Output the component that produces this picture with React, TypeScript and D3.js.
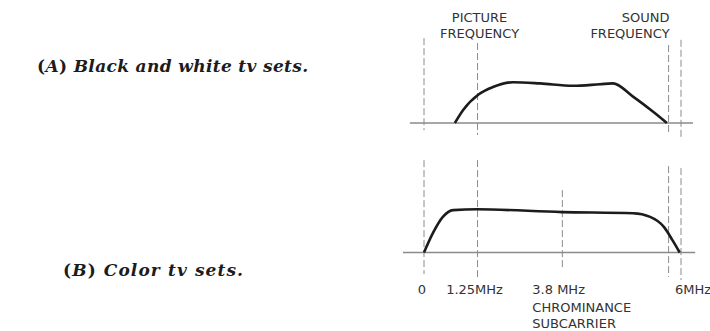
import * as d3 from 'd3';

// Frequency positions (MHz)
const BW_MHZ = [0.72, 0.91, 1.28, 1.61, 2.08, 2.71, 3.48, 4.11, 4.41, 4.88, 5.35, 5.67];
const BW_AMP = [0, 0.32, 0.72, 0.9, 1.02, 0.99, 0.93, 0.97, 0.99, 0.66, 0.28, 0];

const COLOR_MHZ = [0, 0.21, 0.44, 0.68, 1.24, 3.22, 4.88, 5.28, 5.6, 5.8, 5.97];
const COLOR_AMP = [0, 0.49, 0.89, 1.06, 1.08, 1.01, 0.98, 0.89, 0.64, 0.31, 0];

// vertical dashed guides
const TOP_GUIDES = [0, 1.25, 5.71, 6];
const BOTTOM_GUIDES = [0, 1.25, 3.23, 5.71, 6];

const TICK_MHZ = [0, 1.25, 3.23, 6];
const TICK_LABELS = ['0', '1.25MHz', '3.8 MHz', '6MHz'];
const CHROMA_LABELS = ['CHROMINANCE', 'SUBCARRIER'];
const PICTURE_LABELS = ['PICTURE', 'FREQUENCY'];
const SOUND_LABELS = ['SOUND', 'FREQUENCY'];

// guide extents in panel amplitude units [top, bottom]
const TOP_GUIDE_SPAN = [[2.12, -0.18], [2.0, -0.3], [1.95, -0.28], [2.08, -0.35]];
const BOTTOM_GUIDE_SPAN = [[2.31, -0.54], [2.31, -0.69], [1.56, -0.44], [2.16, -0.61], [2.11, -0.69]];

const LABEL_FONT = '"DejaVu Sans", sans-serif';
const CAPTION_FONT = '"DejaVu Serif", serif';
const GUIDE = '#8c8c8c';
const INK = '#1c1c1c';

export default function App() {
  const x = d3.scaleLinear().domain([0, 6]).range([424, 681]);
  const yTop = d3.scaleLinear().domain([0, 1]).range([123, 83]);
  const yBot = d3.scaleLinear().domain([0, 1]).range([252.5, 212.5]);

  const bwLine = d3
    .line<number>()
    .x((d) => x(d))
    .y((_, i) => yTop(BW_AMP[i]))
    .curve(d3.curveMonotoneX);
  const colorLine = d3
    .line<number>()
    .x((d) => x(d))
    .y((_, i) => yBot(COLOR_AMP[i]))
    .curve(d3.curveMonotoneX);

  const tickAnchor = ['middle', 'middle', 'start', 'start'];
  const tickShift = [-2, -3, -30, -6];

  return (
    <svg
      width={710}
      height={331}
      style={{ position: 'absolute', left: 0, top: 0, background: '#fff' }}
    >
      {/* captions */}
      <text
        x={37}
        y={72}
        fontFamily={CAPTION_FONT}
        fontSize={17}
        fontWeight="bold"
        fill={INK}
        letterSpacing={0.35}
      >
        (<tspan fontStyle="italic">A</tspan>) <tspan fontStyle="italic">Black and white tv sets.</tspan>
      </text>
      <text
        x={63}
        y={276}
        fontFamily={CAPTION_FONT}
        fontSize={17}
        fontWeight="bold"
        fill={INK}
        letterSpacing={1.1}
      >
        (<tspan fontStyle="italic">B</tspan>) <tspan fontStyle="italic">Color tv sets.</tspan>
      </text>

      {/* guides */}
      {TOP_GUIDES.map((f, i) => (
        <line
          key={'tg' + i}
          x1={x(f)}
          x2={x(f)}
          y1={yTop(TOP_GUIDE_SPAN[i][0])}
          y2={yTop(TOP_GUIDE_SPAN[i][1])}
          stroke={GUIDE}
          strokeWidth={1}
          strokeDasharray="7,3"
        />
      ))}
      {BOTTOM_GUIDES.map((f, i) => (
        <line
          key={'bg' + i}
          x1={x(f)}
          x2={x(f)}
          y1={yBot(BOTTOM_GUIDE_SPAN[i][0])}
          y2={yBot(BOTTOM_GUIDE_SPAN[i][1])}
          stroke={GUIDE}
          strokeWidth={1}
          strokeDasharray="7,3"
        />
      ))}

      {/* baselines */}
      <line x1={x(-0.33)} x2={x(6.28)} y1={yTop(0)} y2={yTop(0)} stroke="#8a8a8a" strokeWidth={1.3} />
      <line x1={x(-0.49)} x2={x(6.33)} y1={yBot(0)} y2={yBot(0)} stroke="#8a8a8a" strokeWidth={1.3} />

      {/* response curves */}
      <path d={bwLine(BW_MHZ) ?? ''} fill="none" stroke={INK} strokeWidth={2.6} strokeLinejoin="round" />
      <path d={colorLine(COLOR_MHZ) ?? ''} fill="none" stroke={INK} strokeWidth={2.6} strokeLinejoin="round" />

      {/* top labels */}
      <g fontFamily={LABEL_FONT} fontSize={13} fill="#333">
        {PICTURE_LABELS.map((t, i) => (
          <text key={'p' + i} x={x(1.25) + 2} y={22 + i * 16} textAnchor="middle">
            {t}
          </text>
        ))}
        {SOUND_LABELS.map((t, i) => (
          <text key={'s' + i} x={x(5.71) + 1} y={22 + i * 16} textAnchor="end">
            {t}
          </text>
        ))}

        {/* bottom tick labels */}
        {TICK_MHZ.map((f, i) => (
          <text key={'t' + i} x={x(f) + tickShift[i]} y={294} textAnchor={tickAnchor[i]}>
            {TICK_LABELS[i]}
          </text>
        ))}
        {CHROMA_LABELS.map((t, i) => (
          <text key={'c' + i} x={x(3.23) - 30} y={312 + i * 16}>
            {t}
          </text>
        ))}
      </g>
    </svg>
  );
}
